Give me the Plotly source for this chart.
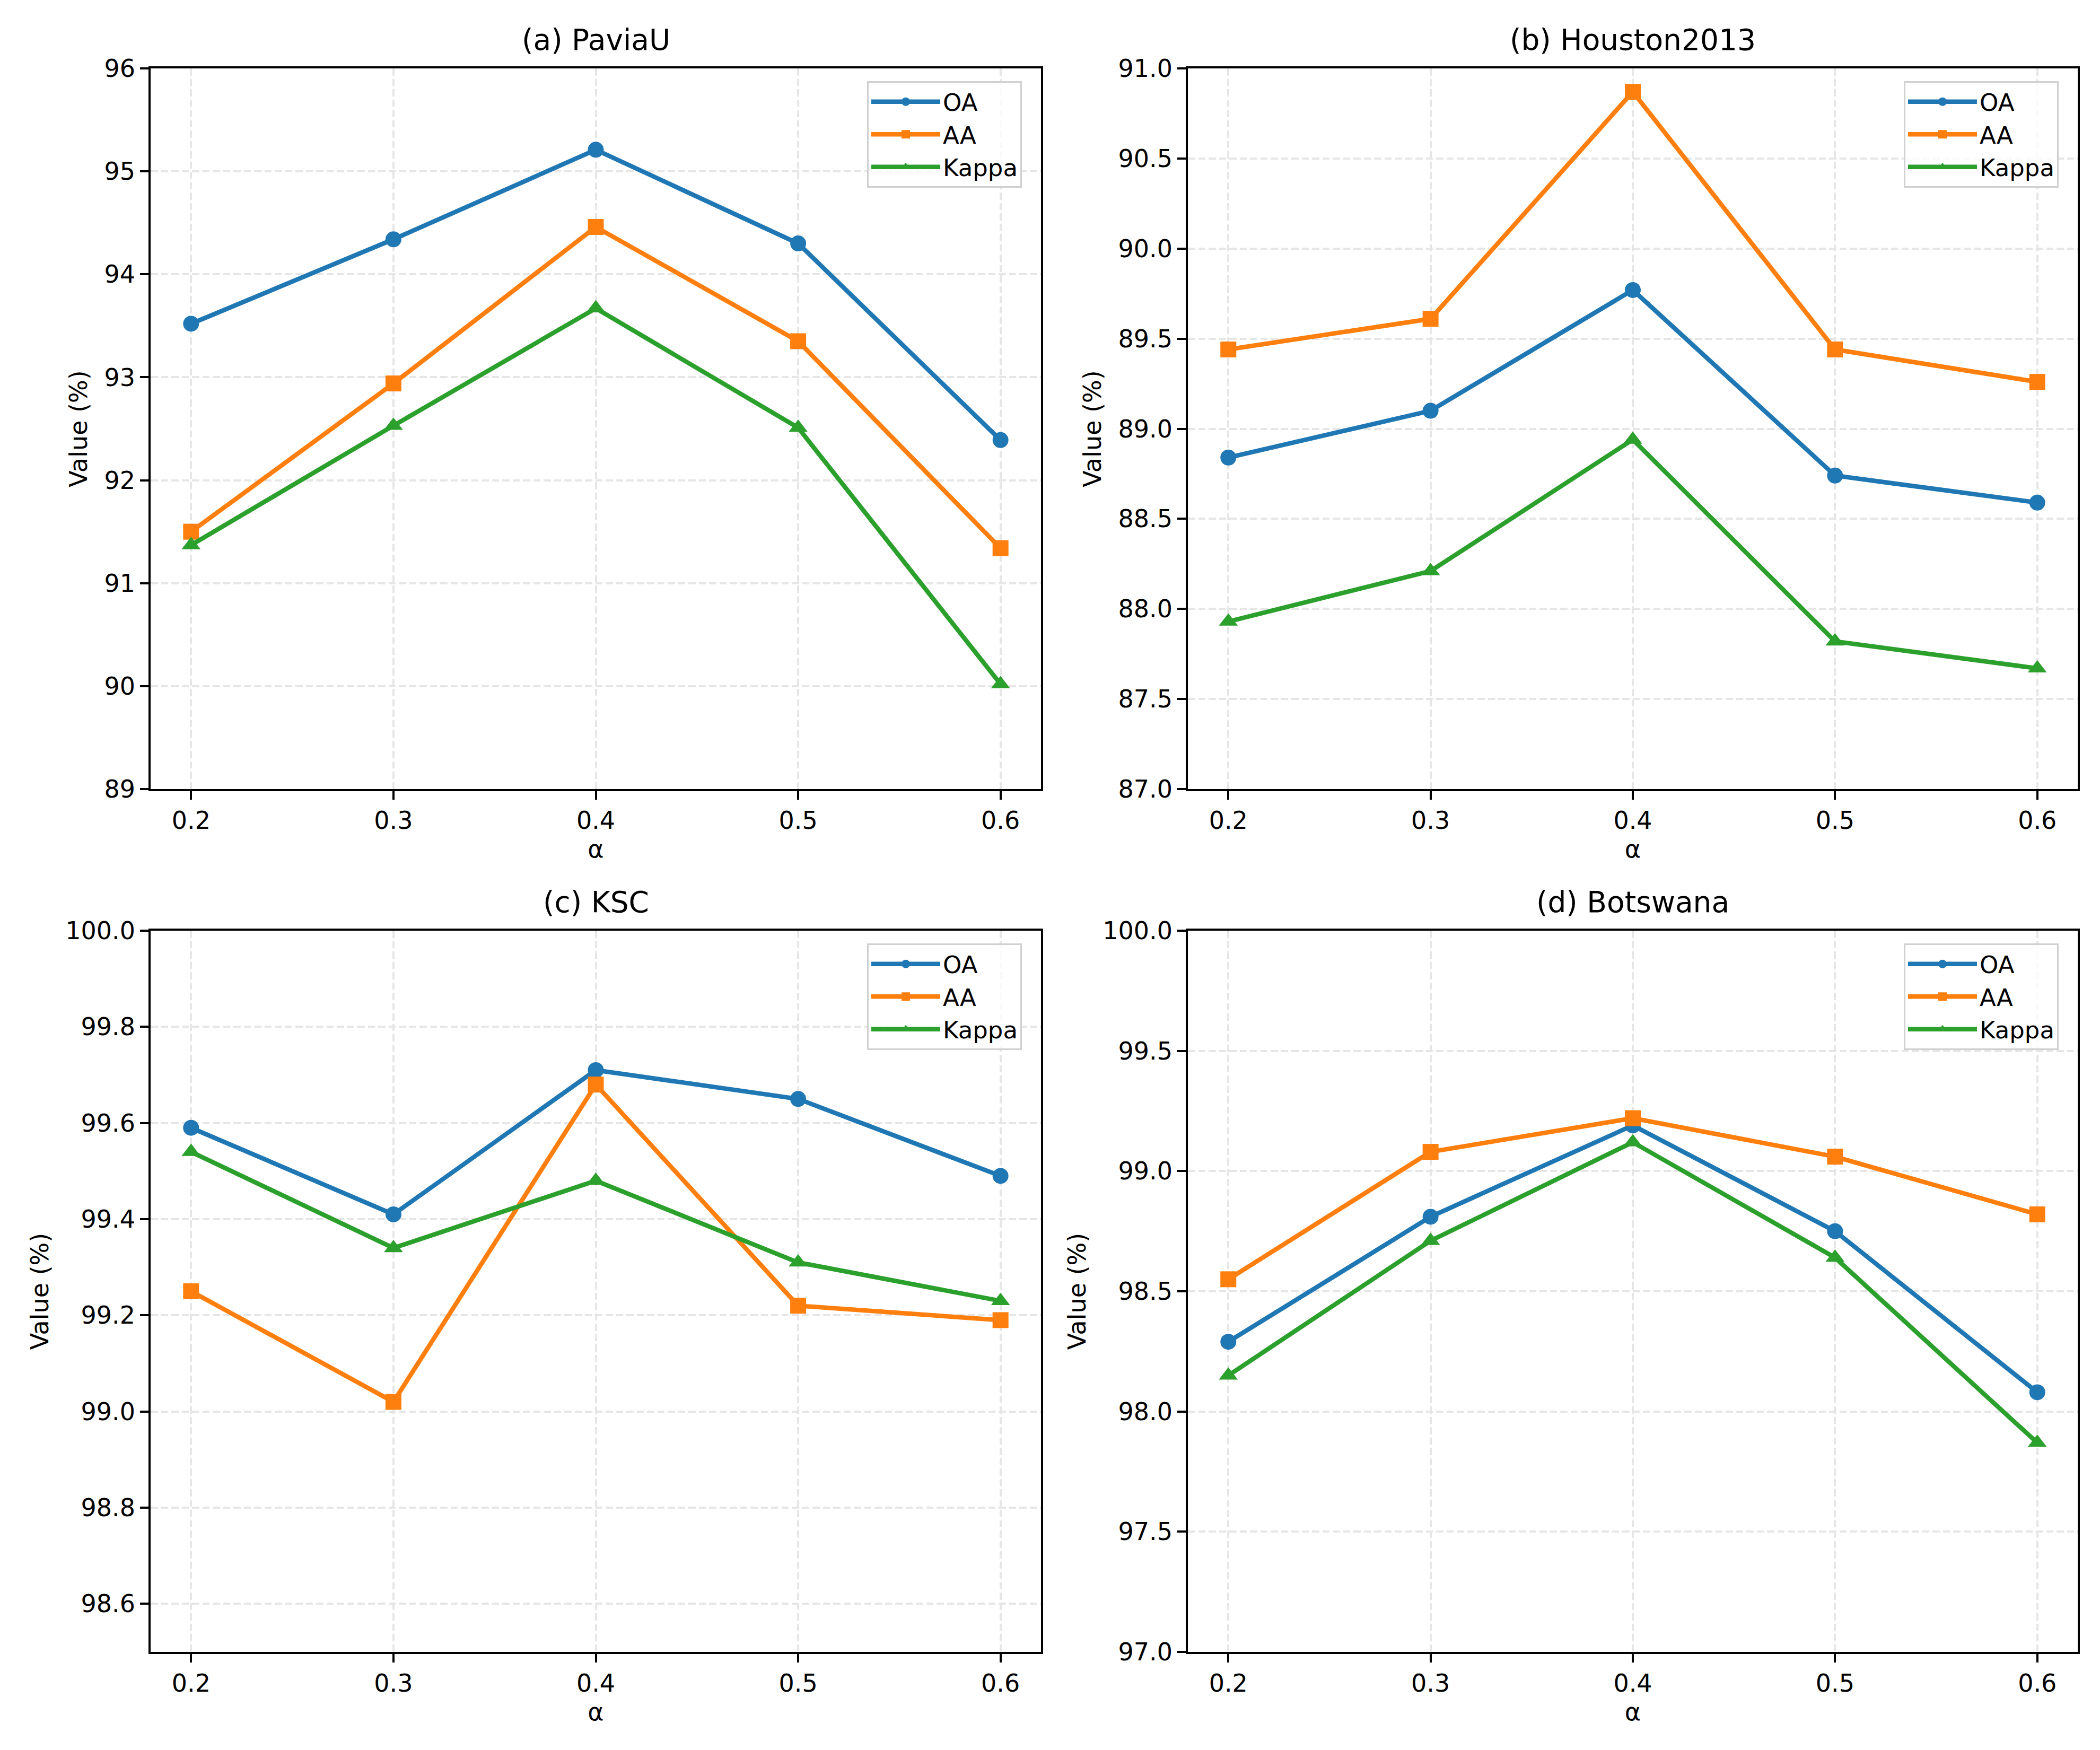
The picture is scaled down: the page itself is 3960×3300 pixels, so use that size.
import plotly.graph_objects as go

alpha = [0.2, 0.3, 0.4, 0.5, 0.6]
alpha_ticks = ["0.2", "0.3", "0.4", "0.5", "0.6"]
series_names = ["OA", "AA", "Kappa"]

titles = ["(a) PaviaU", "(b) Houston2013", "(c) KSC", "(d) Botswana"]

pavia_oa = [93.52, 94.34, 95.21, 94.30, 92.39]
pavia_aa = [91.50, 92.94, 94.46, 93.35, 91.34]
pavia_kappa = [91.37, 92.53, 93.67, 92.51, 90.02]

houston_oa = [88.84, 89.10, 89.77, 88.74, 88.59]
houston_aa = [89.44, 89.61, 90.87, 89.44, 89.26]
houston_kappa = [87.93, 88.21, 88.94, 87.82, 87.67]

ksc_oa = [99.59, 99.41, 99.71, 99.65, 99.49]
ksc_aa = [99.25, 99.02, 99.68, 99.22, 99.19]
ksc_kappa = [99.54, 99.34, 99.48, 99.31, 99.23]

bots_oa = [98.29, 98.81, 99.19, 98.75, 98.08]
bots_aa = [98.55, 99.08, 99.22, 99.06, 98.82]
bots_kappa = [98.15, 98.71, 99.12, 98.64, 97.87]

ytick_a = [89, 90, 91, 92, 93, 94, 95, 96]
ytick_b = [87.0, 87.5, 88.0, 88.5, 89.0, 89.5, 90.0, 90.5, 91.0]
ytick_c = [98.6, 98.8, 99.0, 99.2, 99.4, 99.6, 99.8, 100.0]
ytick_d = [97.0, 97.5, 98.0, 98.5, 99.0, 99.5, 100.0]

yranges = [[89, 96], [87, 91], [98.5, 100], [97, 100]]
ytick_sets = [ytick_a, ytick_b, ytick_c, ytick_d]
ytick_fmt = ["{:.0f}", "{:.1f}", "{:.1f}", "{:.1f}"]

panels = [
    [pavia_oa, pavia_aa, pavia_kappa],
    [houston_oa, houston_aa, houston_kappa],
    [ksc_oa, ksc_aa, ksc_kappa],
    [bots_oa, bots_aa, bots_kappa],
]

colors = ["#1f77b4", "#ff7f0e", "#2ca02c"]
symbols = ["circle", "square", "triangle-up"]
msizes = [30, 30, 31]

W, H = 3960, 3300
# axes boxes in pixels (left, right, top, bottom)
boxes = [
    (276, 1955, 121, 1480),
    (2232, 3910, 121, 1480),
    (276, 1955, 1747, 3107),
    (2232, 3910, 1747, 3107),
]

FONT = "DejaVu Sans"
fig = go.Figure()
layout = dict(
    width=W, height=H,
    margin=dict(l=0, r=0, t=0, b=0, pad=0, autoexpand=False),
    paper_bgcolor="white", plot_bgcolor="white",
    font=dict(family=FONT, size=46, color="black"),
    showlegend=True,
    annotations=[],
)

grid_dash = "13.6px,5.9px"

for i, (vals, box) in enumerate(zip(panels, boxes)):
    xa = "x" if i == 0 else f"x{i+1}"
    ya = "y" if i == 0 else f"y{i+1}"
    for j in range(3):
        fig.add_trace(go.Scatter(
            x=alpha, y=vals[j], mode="lines+markers", name=series_names[j],
            line=dict(color=colors[j], width=8.5),
            marker=dict(symbol=symbols[j], size=msizes[j], color=colors[j],
                        line=dict(width=0)),
            xaxis=xa, yaxis=ya,
            legend="legend" if i == 0 else f"legend{i+1}",
            showlegend=True,
        ))
    l, r, t, b = box
    xdom = [l / W, r / W]
    ydom = [1 - b / H, 1 - t / H]
    axis_common = dict(
        showline=True, mirror=True, linecolor="black", linewidth=3.7,
        ticks="outside", ticklen=16, tickwidth=3.7, tickcolor="black",
        showgrid=True, gridcolor="#e6e6e6", gridwidth=3.7, griddash=grid_dash,
        zeroline=False, automargin=False,
        tickfont=dict(family=FONT, size=46, color="black"),
    )
    xkey = "xaxis" if i == 0 else f"xaxis{i+1}"
    ykey = "yaxis" if i == 0 else f"yaxis{i+1}"
    layout[xkey] = dict(
        axis_common, domain=xdom, anchor=ya, range=[0.18, 0.62],
        tickvals=alpha, ticktext=alpha_ticks,
        title=dict(text="α", font=dict(family=FONT, size=46), standoff=12),
    )
    layout[ykey] = dict(
        axis_common, domain=ydom, anchor=xa, range=yranges[i],
        tickvals=ytick_sets[i], ticktext=[ytick_fmt[i].format(v) for v in ytick_sets[i]],
        title=dict(text="Value (%)", font=dict(family=FONT, size=46), standoff=18),
    )
    lkey = "legend" if i == 0 else f"legend{i+1}"
    layout[lkey] = dict(
        x=(r - 36) / W, y=1 - (t + 24) / H, xanchor="right", yanchor="top",
        xref="paper", yref="paper",
        bgcolor="rgba(255,255,255,0.8)", bordercolor="#d0d0d0", borderwidth=3,
        font=dict(family=FONT, size=45, color="black"),
        itemwidth=130, tracegroupgap=0, entrywidth=318, entrywidthmode="pixels",
    )
    layout["annotations"].append(dict(
        text=titles[i], x=(l + r) / 2 / W, y=1 - t / H, xref="paper", yref="paper",
        xanchor="center", yanchor="bottom", yshift=20, showarrow=False,
        font=dict(family=FONT, size=55, color="black"),
    ))

fig.update_layout(**layout)
fig.write_html("out.html")
